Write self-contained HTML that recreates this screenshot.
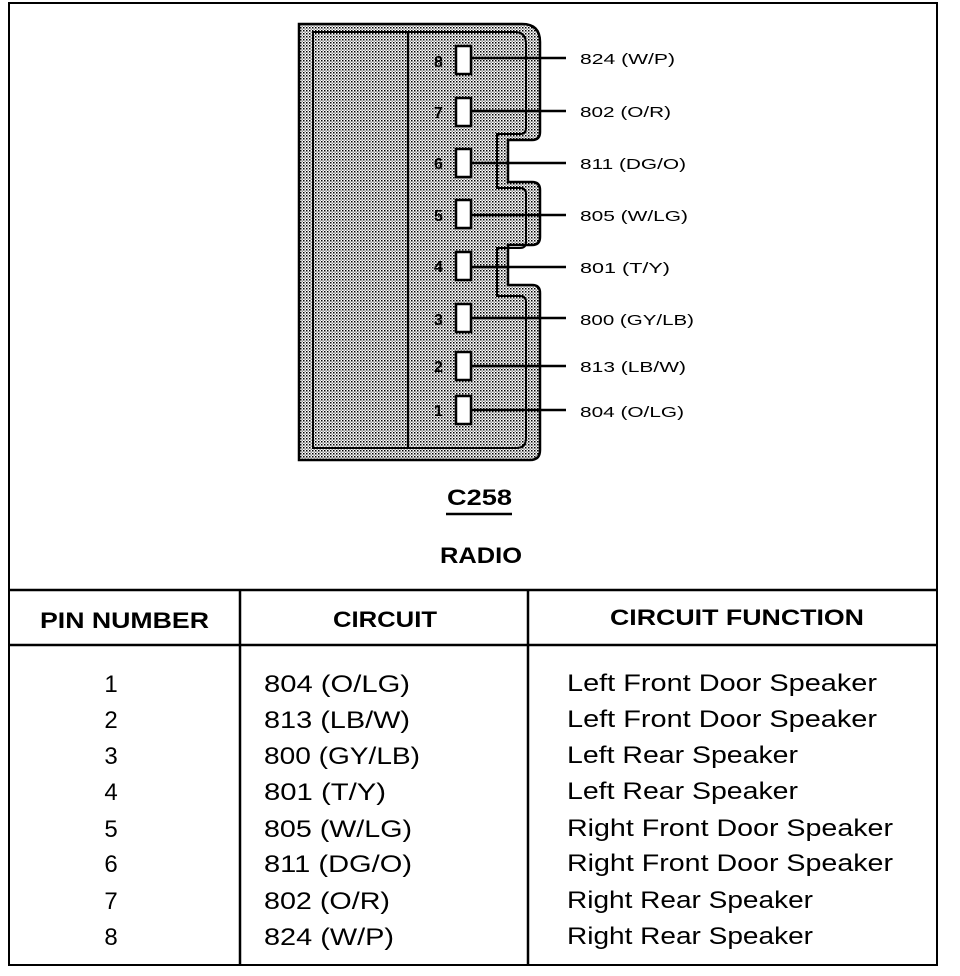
<!DOCTYPE html>
<html><head><style>
body{margin:0;background:#fff;width:960px;height:976px;overflow:hidden}
svg{display:block}
text{font-family:"Liberation Sans",Arial,sans-serif;fill:#000}
</style></head><body>
<svg width="960" height="976" viewBox="0 0 960 976">
<defs>
<pattern id="d" width="3" height="3" patternUnits="userSpaceOnUse">
<rect width="3" height="3" fill="#fff"/>
<rect width="1.5" height="1.5" fill="#000"/><rect x="1.5" y="1.5" width="1.5" height="1.5" fill="#999"/>
</pattern>
</defs>
<rect x="9" y="3" width="928" height="962" fill="none" stroke="#000" stroke-width="2"/>
<path d="M299 24 H522 Q540 24 540 42 V132 Q540 140 532 140 H508 V182 H532 Q540 182 540 190 V237 Q540 245 532 245 H508 V285 H532 Q540 285 540 293 V450 Q540 460 530 460 H299 Z" fill="url(#d)" stroke="#000" stroke-width="2.5"/>
<path d="M313 32 H515 Q526 32 526 44 V128 Q526 134 520 134 H497 V188 H520 Q526 188 526 194 V242 Q526 248 520 248 H497 V296 H520 Q526 296 526 302 V438 Q526 448 516 448 H313 Z" fill="none" stroke="#000" stroke-width="2"/>
<line x1="408" y1="32" x2="408" y2="448" stroke="#000" stroke-width="2"/>
<g stroke="#000" stroke-width="2.5" fill="#fff">
<rect x="456" y="46" width="15" height="28"/>
<rect x="456" y="98" width="15" height="28"/>
<rect x="456" y="149" width="15" height="28"/>
<rect x="456" y="200" width="15" height="28"/>
<rect x="456" y="252" width="15" height="28"/>
<rect x="456" y="304" width="15" height="28"/>
<rect x="456" y="352" width="15" height="28"/>
<rect x="456" y="396" width="15" height="28"/>
</g>
<g stroke="#000" stroke-width="2.5">
<line x1="471" y1="58" x2="566" y2="58"/>
<line x1="471" y1="111" x2="566" y2="111"/>
<line x1="471" y1="163" x2="566" y2="163"/>
<line x1="471" y1="215" x2="566" y2="215"/>
<line x1="471" y1="267" x2="566" y2="267"/>
<line x1="471" y1="318" x2="566" y2="318"/>
<line x1="471" y1="366" x2="566" y2="366"/>
<line x1="471" y1="410" x2="566" y2="410"/>
</g>
<g font-size="16" font-weight="bold">
<text x="434" y="67">8</text><text x="434" y="118">7</text><text x="434" y="169">6</text><text x="434" y="221">5</text><text x="434" y="272">4</text><text x="434" y="325">3</text><text x="434" y="372">2</text><text x="434" y="416">1</text>
</g>
<g font-size="15" lengthAdjust="spacingAndGlyphs">
<text x="580" y="64" textLength="95" lengthAdjust="spacingAndGlyphs">824 (W/P)</text>
<text x="580" y="117" textLength="91" lengthAdjust="spacingAndGlyphs">802 (O/R)</text>
<text x="580" y="169" textLength="106" lengthAdjust="spacingAndGlyphs">811 (DG/O)</text>
<text x="580" y="221" textLength="108" lengthAdjust="spacingAndGlyphs">805 (W/LG)</text>
<text x="580" y="273" textLength="90" lengthAdjust="spacingAndGlyphs">801 (T/Y)</text>
<text x="580" y="325" textLength="114" lengthAdjust="spacingAndGlyphs">800 (GY/LB)</text>
<text x="580" y="372" textLength="106" lengthAdjust="spacingAndGlyphs">813 (LB/W)</text>
<text x="580" y="417" textLength="104" lengthAdjust="spacingAndGlyphs">804 (O/LG)</text>
</g>
<text x="447" y="505" font-size="22" font-weight="bold" textLength="65" lengthAdjust="spacingAndGlyphs">C258</text>
<line x1="446" y1="514" x2="512" y2="514" stroke="#000" stroke-width="2.5"/>
<text x="440" y="563" font-size="22" font-weight="bold" textLength="82" lengthAdjust="spacingAndGlyphs">RADIO</text>
<g stroke="#000" stroke-width="2.5">
<line x1="9" y1="590" x2="937" y2="590"/>
<line x1="9" y1="645" x2="937" y2="645"/>
<line x1="240" y1="590" x2="240" y2="965"/>
<line x1="528" y1="590" x2="528" y2="965"/>
</g>
<g font-size="22" font-weight="bold">
<text x="40" y="628" textLength="169" lengthAdjust="spacingAndGlyphs">PIN NUMBER</text>
<text x="333" y="627" textLength="104" lengthAdjust="spacingAndGlyphs">CIRCUIT</text>
<text x="610" y="625" textLength="254" lengthAdjust="spacingAndGlyphs">CIRCUIT FUNCTION</text>
</g>
<g font-size="24">
<g text-anchor="middle">
<text x="111" y="692">1</text><text x="111" y="728">2</text><text x="111" y="764">3</text><text x="111" y="800">4</text><text x="111" y="837">5</text><text x="111" y="872">6</text><text x="111" y="909">7</text><text x="111" y="945">8</text>
</g>
<text x="264" y="692" textLength="146" lengthAdjust="spacingAndGlyphs">804  (O/LG)</text>
<text x="264" y="728" textLength="146" lengthAdjust="spacingAndGlyphs">813  (LB/W)</text>
<text x="264" y="764" textLength="156" lengthAdjust="spacingAndGlyphs">800  (GY/LB)</text>
<text x="264" y="800" textLength="122" lengthAdjust="spacingAndGlyphs">801  (T/Y)</text>
<text x="264" y="837" textLength="148" lengthAdjust="spacingAndGlyphs">805  (W/LG)</text>
<text x="264" y="872" textLength="148" lengthAdjust="spacingAndGlyphs">811  (DG/O)</text>
<text x="264" y="909" textLength="126" lengthAdjust="spacingAndGlyphs">802  (O/R)</text>
<text x="264" y="945" textLength="130" lengthAdjust="spacingAndGlyphs">824  (W/P)</text>
<text x="567" y="691" textLength="310" lengthAdjust="spacingAndGlyphs">Left Front Door Speaker</text>
<text x="567" y="727" textLength="310" lengthAdjust="spacingAndGlyphs">Left Front Door Speaker</text>
<text x="567" y="763" textLength="231" lengthAdjust="spacingAndGlyphs">Left Rear Speaker</text>
<text x="567" y="799" textLength="231" lengthAdjust="spacingAndGlyphs">Left Rear Speaker</text>
<text x="567" y="836" textLength="326" lengthAdjust="spacingAndGlyphs">Right Front Door Speaker</text>
<text x="567" y="871" textLength="326" lengthAdjust="spacingAndGlyphs">Right Front Door Speaker</text>
<text x="567" y="908" textLength="246" lengthAdjust="spacingAndGlyphs">Right Rear Speaker</text>
<text x="567" y="944" textLength="246" lengthAdjust="spacingAndGlyphs">Right Rear Speaker</text>
</g>
</svg>
</body></html>
